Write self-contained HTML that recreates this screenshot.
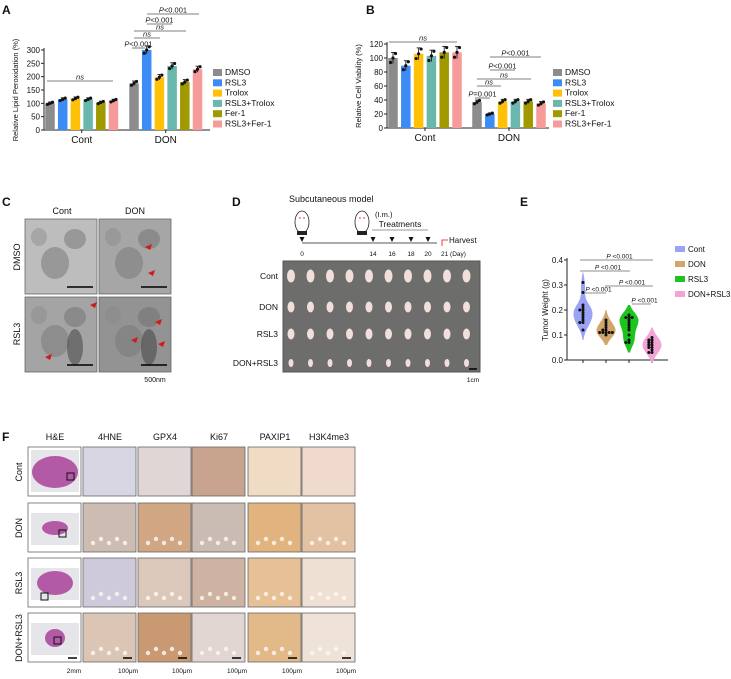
<!DOCTYPE html>
<html><head><meta charset="utf-8"><style>
body{margin:0;background:#fff;width:731px;height:679px;overflow:hidden;font-family:"Liberation Sans",Arial,sans-serif}
svg{display:block}
text{font-family:"Liberation Sans",Arial,sans-serif;fill:#111}
</style></head><body>
<svg id="fig" width="731" height="679" viewBox="0 0 731 679" xmlns="http://www.w3.org/2000/svg">
<g font-weight="bold" font-size="12">
<text x="2" y="14">A</text>
<text x="366" y="14">B</text>
<text x="2" y="206">C</text>
<text x="232" y="206">D</text>
<text x="520" y="206">E</text>
<text x="2" y="441">F</text>
</g>
<g id="chartA"></g>
<g id="chartB"></g>
<g id="panelC"></g>
<g id="panelD"></g>
<g id="chartE"></g>
<g id="panelF"></g>
</svg>
<script>
const groupsAB = ["Cont","DON"];
const seriesNames = ["DMSO","RSL3","Trolox","RSL3+Trolox","Fer-1","RSL3+Fer-1"];
const seriesColors = ["#8c8c8c","#3d8bf5","#ffc107","#6ab8ad","#a09a00","#f79a9a"];
const lipidCont = [100,115,118,115,103,110];
const lipidDON = [175,300,198,240,180,228];
const lipidTicks = [0,50,100,150,200,250,300];
const viabCont = [100,89,106,103,108,108];
const viabDON = [37,20,38,38,38,35];
const viabTicks = [0,20,40,60,80,100,120];
const weightGroups = ["Cont","DON","RSL3","DON+RSL3"];
const weightColors = ["#9aa4f7","#d3a56a","#1ec41e","#f3a3d6"];
const wCont = [0.31,0.27,0.22,0.21,0.20,0.20,0.19,0.18,0.17,0.16,0.15,0.15,0.12];
const wDON = [0.16,0.15,0.14,0.13,0.12,0.12,0.11,0.11,0.11,0.11,0.11,0.10];
const wRSL3 = [0.18,0.17,0.17,0.17,0.16,0.15,0.14,0.13,0.12,0.10,0.08,0.07,0.07];
const wDR = [0.09,0.08,0.08,0.07,0.07,0.06,0.06,0.05,0.05,0.04,0.03,0.03];
const weightTicks = [0.0,0.1,0.2,0.3,0.4];

const NS="http://www.w3.org/2000/svg";
function mk(parent,tag,attrs,txt){const e=document.createElementNS(NS,tag);for(const k in attrs)e.setAttribute(k,attrs[k]);if(txt!==undefined)e.textContent=txt;parent.appendChild(e);return e;}

function barChart(gid,cont,don,ticks,o){
  const g=document.getElementById(gid);
  const y=v=>o.y0-(v-ticks[0])/(ticks[ticks.length-1]-ticks[0])*(o.y0-o.yTop);
  mk(g,'line',{x1:o.ax,y1:o.yTop-2,x2:o.ax,y2:o.y0,stroke:'#222','stroke-width':1});
  mk(g,'line',{x1:o.ax,y1:o.y0,x2:o.axEnd,y2:o.y0,stroke:'#222','stroke-width':1});
  ticks.forEach(t=>{mk(g,'line',{x1:o.ax-3,y1:y(t),x2:o.ax,y2:y(t),stroke:'#222'});
    const tl=mk(g,'text',{x:o.ax-4,y:y(t)+3,'font-size':8,'text-anchor':'end'},t);
    });
  const yl=mk(g,'text',{transform:`translate(${o.ax-26},${(o.y0+o.yTop)/2}) rotate(-90)`,'font-size':7.5,'text-anchor':'middle'},o.ylabel);
  
  [cont,don].forEach((vals,gi)=>{
    const start=o.gx[gi];
    vals.forEach((v,i)=>{
      const cx=start+i*o.step;
      const r=mk(g,'rect',{x:cx-o.bw/2,y:y(v),width:o.bw,height:o.y0-y(v),fill:seriesColors[i]});
      
      
      const e=v*o.err;
      mk(g,'line',{x1:cx,y1:y(v+e),x2:cx,y2:y(v-e),stroke:'#111','stroke-width':0.8});
      mk(g,'line',{x1:cx-2,y1:y(v+e),x2:cx+2,y2:y(v+e),stroke:'#111','stroke-width':0.8});
      [-2.5,0,2.5].forEach((d,k)=>mk(g,'circle',{cx:cx+d,cy:y(v+(k-1)*e*0.8),r:1.6,fill:'#111'}));
    });
    const gl=mk(g,'text',{x:start+2.5*o.step,y:o.y0+13,'font-size':10,'text-anchor':'middle'},groupsAB[gi]);
    
    mk(g,'line',{x1:start+2.5*o.step,y1:o.y0,x2:start+2.5*o.step,y2:o.y0+3,stroke:'#222'});
  });
  seriesNames.forEach((n,i)=>{
    const sw=mk(g,'rect',{x:o.lx,y:o.ly+i*10.3-6,width:9,height:7,fill:seriesColors[i]});
    
    const lt=mk(g,'text',{x:o.lx+12,y:o.ly+i*10.3,'font-size':8.5},n);
    
  });
  o.brackets.forEach(b=>{
    mk(g,'line',{x1:b[0],y1:b[2],x2:b[1],y2:b[2],stroke:'#555','stroke-width':0.8});
    const t=mk(g,'text',{x:(b[0]+b[1])/2,y:b[2]-1.5,'font-size':7.5,'text-anchor':'middle','font-style':b[3]==='ns'?'italic':'normal'});
    if(b[3]==='ns'){t.textContent='ns';}else{mk(t,'tspan',{'font-style':'italic'},'P');t.appendChild(document.createTextNode(b[3]));}
    
  });
}
barChart('chartA',lipidCont,lipidDON,lipidTicks,{ax:44,axEnd:210,y0:130,yTop:50,gx:[50,134],step:12.7,bw:9.5,err:0.05,ylabel:'Relative Lipid Peroxidation (%)',lx:213,ly:75,
  brackets:[[47,113,81,'ns'],[132,145,48,'<0.001'],[134,160,38,'ns'],[134,186,31,'ns'],[147,172,24,'<0.001'],[147,199,14,'<0.001']]});
barChart('chartB',viabCont,viabDON,viabTicks,{ax:387,axEnd:549,y0:128,yTop:44,gx:[393,477],step:12.8,bw:9.5,err:0.08,ylabel:'Relative Cell Viability (%)',lx:553,ly:75,
  brackets:[[389,457,42,'ns'],[475,490,98,'=0.001'],[477,501,86,'ns'],[477,531,79,'ns'],[490,515,70,'<0.001'],[490,541,57,'<0.001']]});

// Panel C
(function(){
  const g=document.getElementById('panelC');
  const cells=[[25,219,'#bdbdbd'],[99,219,'#a6a6a6'],[25,297,'#a4a4a4'],[99,297,'#939393']];
  cells.forEach((c,i)=>{
    const r=mk(g,'rect',{x:c[0],y:c[1],width:72,height:75,fill:c[2],stroke:'#666','stroke-width':0.8});
    
    mk(g,'ellipse',{cx:c[0]+30,cy:c[1]+44,rx:14,ry:16,fill:'#7a7a7a',opacity:0.55});
    mk(g,'ellipse',{cx:c[0]+50,cy:c[1]+20,rx:11,ry:10,fill:'#6a6a6a',opacity:0.45});
    mk(g,'ellipse',{cx:c[0]+14,cy:c[1]+18,rx:8,ry:9,fill:'#8a8a8a',opacity:0.45});
    if(i>=2){mk(g,'ellipse',{cx:c[0]+50,cy:c[1]+50,rx:8,ry:18,fill:'#444',opacity:0.55});}
    mk(g,'line',{x1:c[0]+42,y1:c[1]+68,x2:c[0]+68,y2:c[1]+68,stroke:'#000','stroke-width':1.5});
  });
  [[145,247],[148,273],[90,305],[45,357],[155,322],[131,340],[158,344]].forEach(p=>{
    const a=mk(g,'polygon',{points:`${p[0]},${p[1]} ${p[0]+7},${p[1]-3} ${p[0]+5},${p[1]+3}`,fill:'#d01a1a'});
    
  });
  [['Cont',62,214],['DON',135,214]].forEach(t=>mk(g,'text',{x:t[1],y:t[2],'font-size':9,'text-anchor':'middle'},t[0]));
  mk(g,'text',{transform:'translate(20,257) rotate(-90)','font-size':9,'text-anchor':'middle'},'DMSO');
  mk(g,'text',{transform:'translate(20,334) rotate(-90)','font-size':9,'text-anchor':'middle'},'RSL3');
  mk(g,'text',{x:155,y:382,'font-size':7,'text-anchor':'middle'},'500nm');
})();

// Panel D
(function(){
  const g=document.getElementById('panelD');
  mk(g,'text',{x:289,y:202,'font-size':9},'Subcutaneous model');
  [[302,222],[362,222]].forEach(m=>{const e=mk(g,'ellipse',{cx:m[0],cy:m[1],rx:7,ry:11,fill:'#fff',stroke:'#222','stroke-width':0.8});
    
    mk(g,'circle',{cx:m[0]-2,cy:m[1]-4,r:0.8,fill:'#e22'});mk(g,'circle',{cx:m[0]+2,cy:m[1]-4,r:0.8,fill:'#e22'});
    mk(g,'rect',{x:m[0]-5,y:m[1]+9,width:10,height:4,fill:'#222'});});
  mk(g,'text',{x:375,y:217,'font-size':7.5},'(I.m.)');
  mk(g,'text',{x:400,y:227,'font-size':8.5,'text-anchor':'middle'},'Treatments');
  mk(g,'line',{x1:372,y1:230,x2:428,y2:230,stroke:'#999','stroke-width':1});
  mk(g,'line',{x1:302,y1:243,x2:437,y2:243,stroke:'#222','stroke-width':0.8});
  const days=['0','14','16','18','20'],dx=[302,373,392,411,428];
  days.forEach((d,i)=>{mk(g,'polygon',{points:`${dx[i]-2.5},${237} ${dx[i]+2.5},237 ${dx[i]},242`,fill:'#111'});
    mk(g,'text',{x:dx[i],y:256,'font-size':6.5,'text-anchor':'middle'},d);});
  mk(g,'polyline',{points:'442,246 442,240 448,240',fill:'none',stroke:'#e44','stroke-width':1});
  mk(g,'text',{x:449,y:243,'font-size':8},'Harvest');
  mk(g,'text',{x:441,y:256,'font-size':6.5},'21  (Day)');
  const ph=mk(g,'rect',{x:283,y:261,width:197,height:111,fill:'#6d6d6b',stroke:'#555'});
  
  const rows=['Cont','DON','RSL3','DON+RSL3'],ry=[276,307,334,363],sz=[[4,6.5],[3.5,5.5],[3.5,5.5],[2.5,4]];
  rows.forEach((r,ri)=>{mk(g,'text',{x:278,y:ry[ri]+3,'font-size':8.5,'text-anchor':'end'},r);
    for(let k=0;k<10;k++)mk(g,'ellipse',{cx:291+k*19.5,cy:ry[ri],rx:sz[ri][0],ry:sz[ri][1],fill:'#f2dedb'});});
  mk(g,'line',{x1:469,y1:369,x2:477,y2:369,stroke:'#000','stroke-width':1.5});
  mk(g,'text',{x:473,y:382,'font-size':6.5,'text-anchor':'middle'},'1cm');
})();

// Panel E
(function(){
  const g=document.getElementById('chartE');
  const ax=567,y0=360,ppu=250,y=v=>y0-v*ppu;
  const xs=[583,606,629,652];
  mk(g,'line',{x1:ax,y1:y(0.4)-2,x2:ax,y2:y0,stroke:'#222'});
  mk(g,'line',{x1:ax,y1:y0,x2:668,y2:y0,stroke:'#222'});
  weightTicks.forEach(t=>{mk(g,'line',{x1:ax-3,y1:y(t),x2:ax,y2:y(t),stroke:'#222'});
    const tl=mk(g,'text',{x:ax-4,y:y(t)+3,'font-size':8,'text-anchor':'end'},t.toFixed(1));
    });
  const yl=mk(g,'text',{transform:`translate(${ax-19},${y(0.2)}) rotate(-90)`,'font-size':8,'text-anchor':'middle'},'Tumor Weight (g)');
  
  [wCont,wDON,wRSL3,wDR].forEach((d,gi)=>{
    const cx=xs[gi];mk(g,'line',{x1:cx,y1:y0,x2:cx,y2:y0+3,stroke:'#222'});
    const mn=Math.min(...d)-0.04,mx=Math.max(...d)+0.04,bw=0.025;
    const pts=[];let maxd=0;const dens=[];
    for(let s=0;s<=30;s++){const v=mn+(mx-mn)*s/30;let k=0;d.forEach(p=>k+=Math.exp(-0.5*((v-p)/bw)**2));dens.push([v,k]);maxd=Math.max(maxd,k);}
    dens.forEach(([v,k])=>pts.push(`${cx+k/maxd*9.5},${y(v)}`));
    dens.slice().reverse().forEach(([v,k])=>pts.push(`${cx-k/maxd*9.5},${y(v)}`));
    const vp=mk(g,'polygon',{points:pts.join(' '),fill:weightColors[gi]});
    
    
    const cnt={};
    d.forEach(p=>{const key=p.toFixed(2);cnt[key]=(cnt[key]||0)+1;const n=cnt[key];
      const off=(n%2?1:-1)*Math.floor(n/2)*3.2;
      const c=mk(g,'circle',{cx:cx+off,cy:y(p),r:1.5,fill:'#111'});
      });
  });
  [[580,653,260],[580,630,271],[605,653,286],[585,606,293],[632,651,304]].forEach(b=>{
    mk(g,'line',{x1:b[0],y1:b[2],x2:b[1],y2:b[2],stroke:'#666','stroke-width':0.8});
    const t=mk(g,'text',{x:(b[0]+b[1])/2+3,y:b[2]-1.5,'font-size':6.5,'text-anchor':'middle'});
    mk(t,'tspan',{'font-style':'italic'},'P');t.appendChild(document.createTextNode(' <0.001'));
    });
  weightGroups.forEach((n,i)=>{
    const sw=mk(g,'rect',{x:675,y:246+i*15,width:10,height:6,fill:weightColors[i]});
    
    const lt=mk(g,'text',{x:688,y:252+i*15,'font-size':8},n);
    });
})();

// Panel F
(function(){
  const g=document.getElementById('panelF');
  const cols=['H&E','4HNE','GPX4','Ki67','PAXIP1','H3K4me3'],cx=[28,83,138,192,248,302];
  const rows=['Cont','DON','RSL3','DON+RSL3'],ry=[447,503,558,613];
  const colors=[
    ['#fff','#d9d6e3','#e0d6d6','#c8a48e','#f0dcc4','#efdacd'],
    ['#fff','#cdbcb2','#d0a683','#cbbcb3','#e0b37f','#e3c1a3'],
    ['#fff','#cfcadb','#dcc8bb','#ceb3a3','#e6c196','#efe0d4'],
    ['#fff','#dbc6b5','#c99a72','#e2d6d3','#e2b988','#efe2d6']];
  cols.forEach((c,i)=>{const t=mk(g,'text',{x:cx[i]+27,y:440,'font-size':9,'text-anchor':'middle'},c);
    });
  rows.forEach((r,ri)=>{
    mk(g,'text',{transform:`translate(22,${ry[ri]+25}) rotate(-90)`,'font-size':9,'text-anchor':'middle'},r);
    cols.forEach((c,ci)=>{
      const t=mk(g,'rect',{x:cx[ci],y:ry[ri],width:53,height:49,fill:colors[ri][ci],stroke:'#666','stroke-width':0.8});
      
      if(ci===0){
        mk(g,'rect',{x:cx[0]+3,y:ry[ri]+(ri===0?3:10),width:48,height:ri===0?42:32,fill:'#e6e6ea'});
        const w=[[46,32],[26,14],[36,24],[20,18]][ri];
        mk(g,'ellipse',{cx:cx[0]+27,cy:ry[ri]+25,rx:w[0]/2,ry:w[1]/2,fill:'#b35aa7'});
        const bx=[[43,30],[35,31],[17,39],[30,28]][ri];
        mk(g,'rect',{x:cx[0]+bx[0]-4,y:ry[ri]+bx[1]-4,width:7,height:7,fill:'none',stroke:'#111','stroke-width':1});
      } else if(ri>0){
        for(let k=0;k<5;k++)mk(g,'circle',{cx:cx[ci]+10+k*8,cy:ry[ri]+40-(k%2)*4,r:2.2,fill:'#fbf6f2',opacity:0.85});
      }
      if(ri===3)mk(g,'line',{x1:cx[ci]+40,y1:ry[ri]+45,x2:cx[ci]+49,y2:ry[ri]+45,stroke:'#000','stroke-width':1.5});
    });
  });
  const sl=['2mm','100μm','100μm','100μm','100μm','100μm'],sx=[74,128,182,237,292,346];
  sl.forEach((s,i)=>mk(g,'text',{x:sx[i],y:673,'font-size':6.5,'text-anchor':'middle'},s));
})();
</script>
</body></html>
